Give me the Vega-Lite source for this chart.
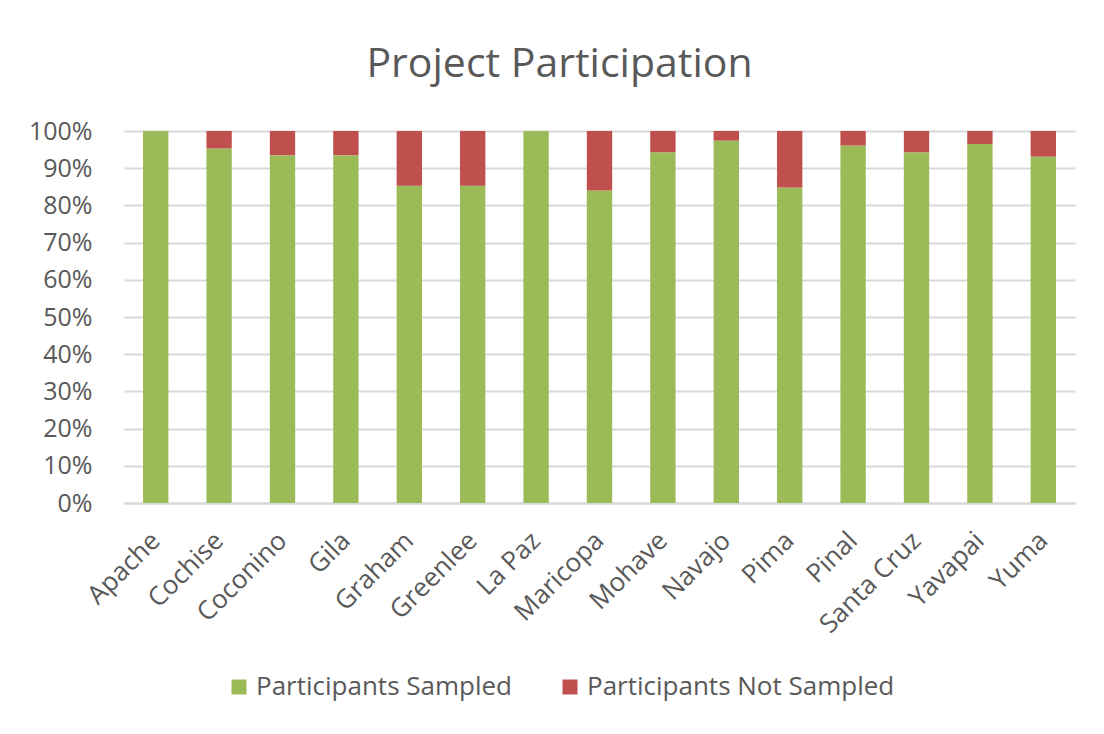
{
  "$schema": "https://vega.github.io/schema/vega-lite/v6.json",
  "width": 951,
  "height": 372,
  "autosize": {"type": "none"},
  "padding": {"left": 124, "top": 131, "right": 29, "bottom": 231},
  "background": "white",
  "title": {
    "text": "Project Participation",
    "font": "Open Sans",
    "fontSize": 41,
    "fontWeight": "normal",
    "color": "#595959",
    "anchor": "middle",
    "dx": -40,
    "offset": 33
  },
  "data": {
    "values": [
      {"county": "Apache", "category": "Participants Sampled", "share": 1.0},
      {"county": "Apache", "category": "Participants Not Sampled", "share": 0.0},
      {"county": "Cochise", "category": "Participants Sampled", "share": 0.953},
      {"county": "Cochise", "category": "Participants Not Sampled", "share": 0.047},
      {"county": "Coconino", "category": "Participants Sampled", "share": 0.935},
      {"county": "Coconino", "category": "Participants Not Sampled", "share": 0.065},
      {"county": "Gila", "category": "Participants Sampled", "share": 0.935},
      {"county": "Gila", "category": "Participants Not Sampled", "share": 0.065},
      {"county": "Graham", "category": "Participants Sampled", "share": 0.853},
      {"county": "Graham", "category": "Participants Not Sampled", "share": 0.147},
      {"county": "Greenlee", "category": "Participants Sampled", "share": 0.853},
      {"county": "Greenlee", "category": "Participants Not Sampled", "share": 0.147},
      {"county": "La Paz", "category": "Participants Sampled", "share": 1.0},
      {"county": "La Paz", "category": "Participants Not Sampled", "share": 0.0},
      {"county": "Maricopa", "category": "Participants Sampled", "share": 0.84},
      {"county": "Maricopa", "category": "Participants Not Sampled", "share": 0.16},
      {"county": "Mohave", "category": "Participants Sampled", "share": 0.943},
      {"county": "Mohave", "category": "Participants Not Sampled", "share": 0.057},
      {"county": "Navajo", "category": "Participants Sampled", "share": 0.974},
      {"county": "Navajo", "category": "Participants Not Sampled", "share": 0.026},
      {"county": "Pima", "category": "Participants Sampled", "share": 0.848},
      {"county": "Pima", "category": "Participants Not Sampled", "share": 0.152},
      {"county": "Pinal", "category": "Participants Sampled", "share": 0.961},
      {"county": "Pinal", "category": "Participants Not Sampled", "share": 0.039},
      {"county": "Santa Cruz", "category": "Participants Sampled", "share": 0.943},
      {"county": "Santa Cruz", "category": "Participants Not Sampled", "share": 0.057},
      {"county": "Yavapai", "category": "Participants Sampled", "share": 0.965},
      {"county": "Yavapai", "category": "Participants Not Sampled", "share": 0.035},
      {"county": "Yuma", "category": "Participants Sampled", "share": 0.931},
      {"county": "Yuma", "category": "Participants Not Sampled", "share": 0.069}
    ]
  },
  "mark": {"type": "bar"},
  "encoding": {
    "x": {
      "field": "county",
      "type": "nominal",
      "sort": null,
      "scale": {"paddingInner": 0.6, "paddingOuter": 0.3},
      "axis": {
        "title": null,
        "labelAngle": -45,
        "labelFont": "Open Sans",
        "labelFontSize": 26,
        "labelColor": "#595959",
        "labelPadding": 24,
        "labelOffset": -9,
        "labelLimit": 0,
        "ticks": false,
        "domainColor": "#D9D9D9",
        "domainWidth": 2
      }
    },
    "y": {
      "field": "share",
      "type": "quantitative",
      "stack": "zero",
      "scale": {"domain": [0, 1]},
      "axis": {
        "title": null,
        "format": ".0%",
        "values": [0, 0.1, 0.2, 0.3, 0.4, 0.5, 0.6, 0.7, 0.8, 0.9, 1.0],
        "labelOverlap": false,
        "labelFont": "Open Sans",
        "labelFontSize": 25,
        "labelColor": "#595959",
        "labelPadding": 32,
        "ticks": false,
        "tickSize": 0,
        "domain": false,
        "gridColor": "#D9D9D9",
        "gridWidth": 2
      }
    },
    "color": {
      "field": "category",
      "type": "nominal",
      "scale": {
        "domain": ["Participants Sampled", "Participants Not Sampled"],
        "range": ["#9BBB59", "#C0504D"]
      },
      "legend": {
        "title": null,
        "orient": "none",
        "direction": "horizontal",
        "legendX": 102,
        "legendY": 543,
        "symbolType": "square",
        "symbolSize": 225,
        "symbolStrokeWidth": 0,
        "labelFont": "Open Sans",
        "labelFontSize": 26,
        "labelColor": "#595959",
        "labelOffset": 4,
        "labelLimit": 0,
        "columnPadding": 44
      }
    },
    "order": {"field": "category", "sort": "descending"}
  },
  "config": {
    "view": {"stroke": null}
  }
}
